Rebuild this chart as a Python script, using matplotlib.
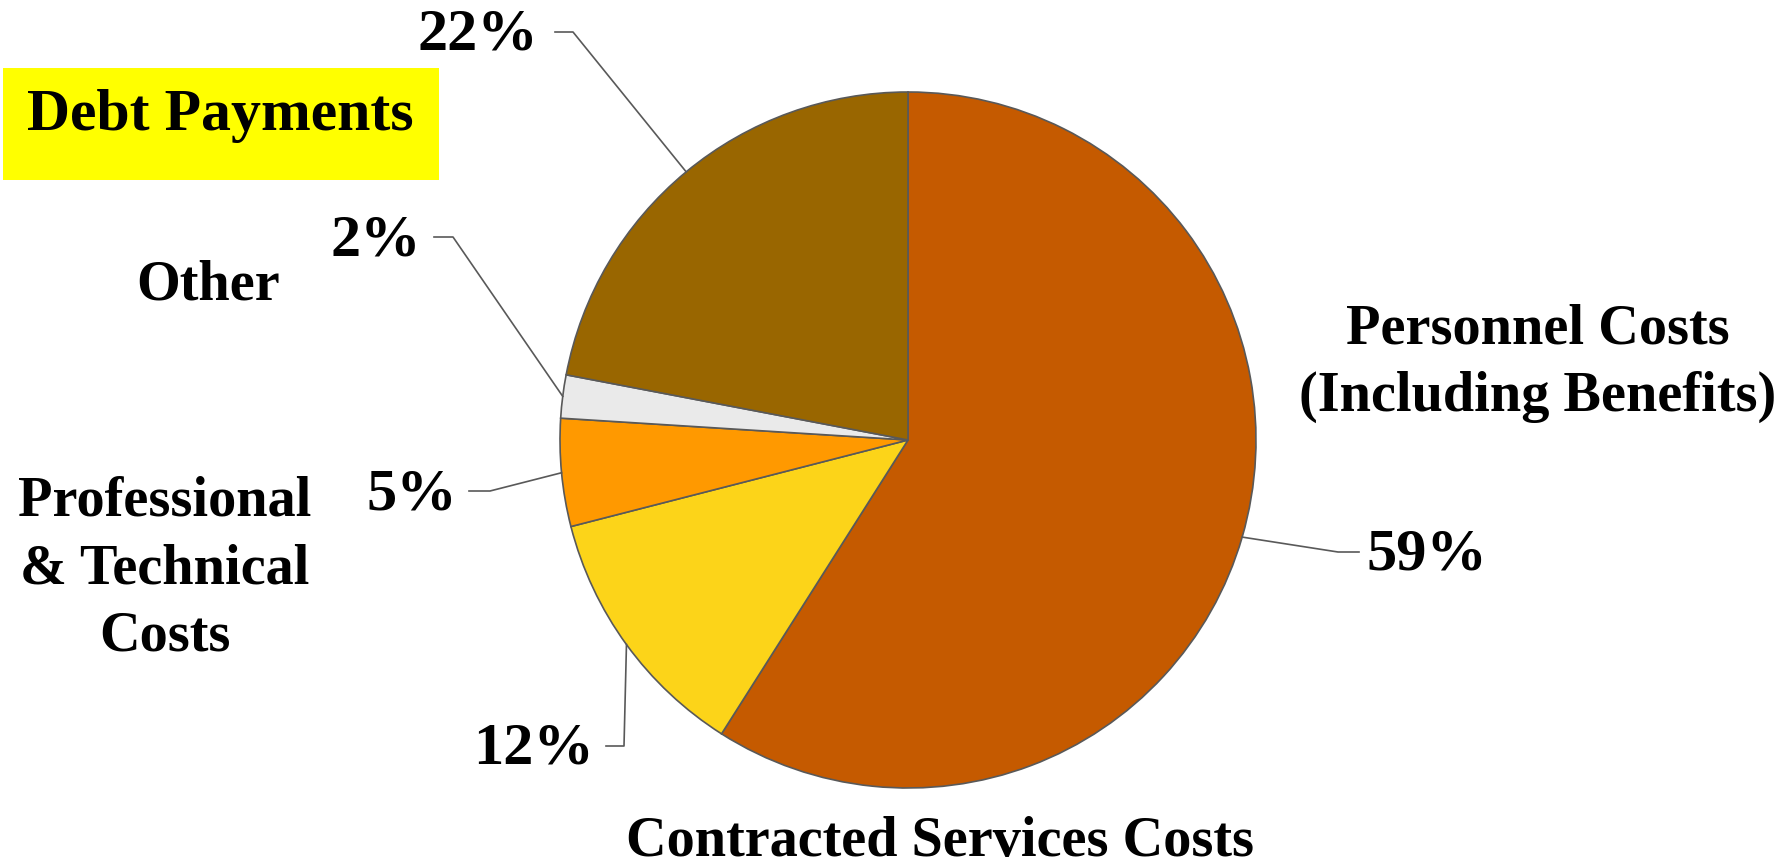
import matplotlib
matplotlib.use("Agg")
import matplotlib.pyplot as plt
from matplotlib.patches import Rectangle
import numpy as np

# data
categories = ["Personnel Costs\n(Including Benefits)", "Contracted Services Costs",
              "Professional\n& Technical\nCosts", "Other", "Debt Payments"]
shares = [59, 12, 5, 2, 22]
colors = ["#C55A00", "#FCD419", "#FF9900", "#EAEAEA", "#996600"]
pct_labels = [f"{v}%" for v in shares]

W, H = 1786, 866
plt.rcParams["font.family"] = ["Liberation Serif", "DejaVu Serif"]
plt.rcParams["font.weight"] = "bold"

fig = plt.figure(figsize=(W / 100, H / 100), dpi=100)
ax = fig.add_axes([0, 0, 1, 1])

# pixel coordinates, y pointing down -> counterclock=True draws clockwise on screen
cx, cy, r = 908, 440, 348
wedges, _ = ax.pie(shares, colors=colors, startangle=-90, counterclock=True,
                   center=(cx, cy), radius=r,
                   wedgeprops=dict(edgecolor="#595959", linewidth=1.2))
ax.set_xlim(0, W)
ax.set_ylim(H, 0)
ax.set_aspect("equal")
ax.axis("off")

# percent label positions and elbow x for leader lines
pct_pos = [(1427, 556), (533, 750), (412, 495), (376, 241), (478, 36)]
elbow_x = [1338, 624, 490, 453, 573]
end_x = [1359, 606, 469, 434, 555]
for w, lab, (lx, ly), ex, tx in zip(wedges, pct_labels, pct_pos, elbow_x, end_x):
    mid = np.deg2rad((w.theta1 + w.theta2) / 2)
    px, py = cx + r * np.cos(mid), cy + r * np.sin(mid)
    ax.plot([px, ex, tx], [py, ly - 4, ly - 4], color="#595959", lw=1.2)
    ax.text(lx, ly, lab, fontsize=43.5, ha="center", va="center")

# category labels
fs = 40.5
ax.text(1538, 363, categories[0], fontsize=fs, ha="center", va="center", linespacing=1.38)
ax.text(940, 842, categories[1], fontsize=fs, ha="center", va="center")
ax.text(165, 569, categories[2], fontsize=fs, ha="center", va="center", linespacing=1.38)
ax.text(208, 285, categories[3], fontsize=fs, ha="center", va="center")
ax.add_patch(Rectangle((3, 68), 436, 112, facecolor="#FFFF00", edgecolor="none"))
ax.text(220, 116, categories[4], fontsize=43, ha="center", va="center")

fig.savefig("out.png", dpi=100)
